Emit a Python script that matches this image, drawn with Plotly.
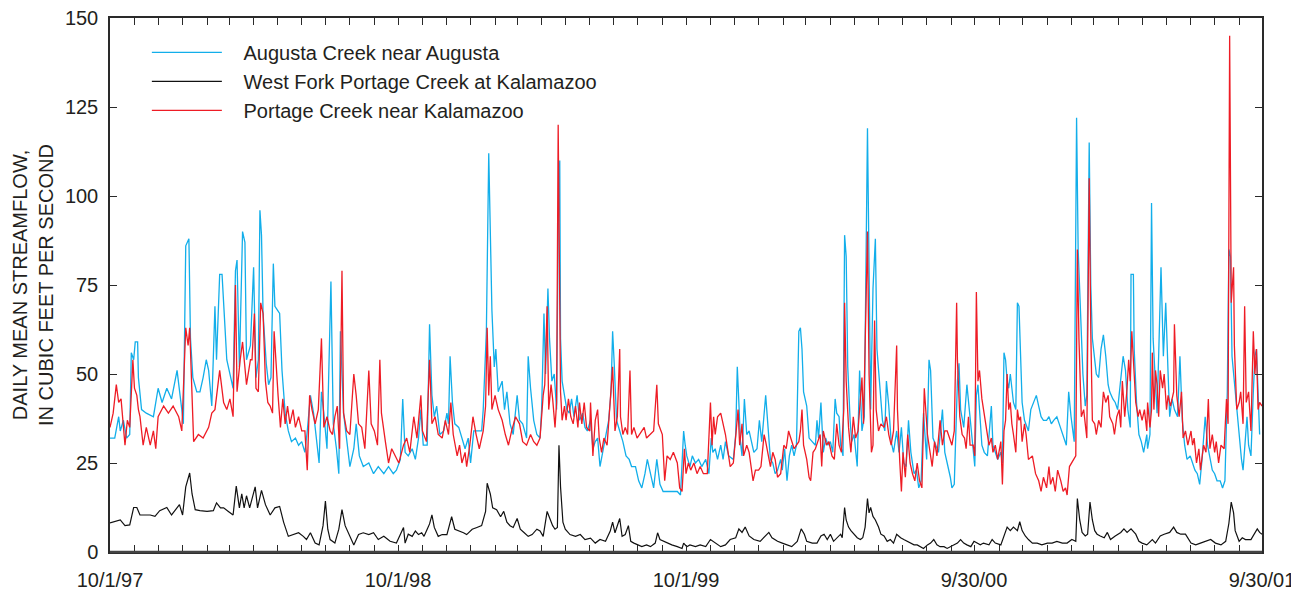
import pandas as pd
import plotly.graph_objects as go

START = "1997-10-01"

# Augusta Creek near Augusta (days since 10/1/97, cfs)
augusta_day = [0, 6, 11, 13, 17, 21, 25, 27, 30, 32, 35, 36, 40, 46, 55, 61, 66, 72, 78, 85, 91, 93, 96, 100, 102, 105, 110, 114, 118, 122, 125, 129, 133, 135, 139, 142, 145, 148, 154, 156, 159, 161, 164, 168, 171, 173, 178,
               182, 185, 188, 190, 192, 194, 198, 201, 204, 207, 209, 212, 215, 218, 222, 226, 230, 235, 239, 243, 247, 250, 254, 258, 262, 265, 268, 271, 275, 280, 283, 287, 290, 292, 296, 300, 304, 309, 312, 316, 321, 328, 334, 340, 347, 353, 359, 363, 368,
               371, 374, 378, 383, 387, 391, 394, 397, 402, 405, 408, 411, 414, 418, 423, 427, 429, 431, 434, 437, 442, 446, 450, 454, 457, 461, 467, 471, 473, 477, 480, 482, 484, 487, 489, 492, 497, 500, 503, 507, 511, 516, 519, 523, 528, 530, 533, 537, 541, 545,
               547, 550, 552, 555, 557, 560, 563, 566, 568, 570, 571, 573, 576, 579, 582, 585, 588, 592, 595, 599, 602, 605, 609, 612, 615, 618, 621, 625, 628, 632, 635, 637, 639, 642, 646, 650, 654, 658, 661, 666, 670, 674, 678, 681, 685, 689, 693, 697, 701, 706, 712, 719, 723,
               727, 729, 731, 735, 738, 742, 746, 750, 755, 759, 762, 764, 767, 770, 774, 777, 780, 784, 790, 793, 795, 797, 799, 801, 804, 807, 810, 812, 816, 820, 823, 826, 831, 834, 837, 840, 843, 846, 850, 852, 855, 858, 861, 864, 867, 870, 873, 875, 877, 879, 883, 886, 890, 894, 896, 898, 901,
               904, 907, 910, 913, 916, 919, 921, 924, 926, 929, 931, 933, 935, 938, 940, 943, 947, 950, 953, 956, 960, 962, 964, 967, 970, 972, 976, 979, 982, 984, 987, 990, 993, 997, 1000, 1003, 1006, 1009, 1012, 1015, 1019, 1022, 1025, 1028, 1031, 1035, 1038, 1040, 1043, 1046, 1050, 1055, 1058, 1061, 1065, 1067, 1070, 1074, 1076, 1078, 1082, 1086, 1090,
               1094, 1096, 1098, 1100, 1102, 1105, 1108, 1112, 1117, 1119, 1122, 1125, 1129, 1131, 1133, 1135, 1137, 1139, 1141, 1143, 1145, 1148, 1150, 1152, 1154, 1156, 1159, 1161, 1164, 1167, 1171, 1174, 1177, 1180, 1183, 1187, 1190, 1193, 1196, 1200, 1203, 1206, 1209, 1212, 1215, 1218, 1222, 1225, 1227, 1230, 1233, 1236, 1238, 1241, 1243, 1245, 1248, 1250, 1253, 1256, 1259, 1262, 1265, 1267,
               1271, 1274, 1277, 1281, 1284, 1287, 1290, 1293, 1294, 1297, 1298, 1301, 1304, 1307, 1310, 1314, 1315, 1318, 1320, 1322, 1324, 1327, 1329, 1332, 1335, 1338, 1341, 1343, 1346, 1349, 1353, 1356, 1359, 1362, 1365, 1369, 1372, 1375, 1378, 1381, 1384, 1388, 1391, 1394, 1397, 1400, 1403, 1407, 1410, 1413, 1416, 1418, 1420, 1422, 1424, 1428, 1431, 1434, 1436, 1439, 1441, 1443, 1446, 1449, 1451, 1453, 1456, 1457]
augusta_cfs = [32, 32, 38, 34, 37, 32, 33, 56, 54, 59, 59, 49, 40, 39, 38, 46, 42, 46, 43, 51, 40, 36, 86, 88, 60, 49, 45, 45, 49, 54, 51, 41, 69, 54, 78, 78, 66, 54, 48, 46, 79, 82, 52, 90, 87, 54, 58,
               80, 49, 54, 96, 89, 67, 53, 47, 49, 81, 69, 68, 67, 51, 39, 34, 31, 32, 30, 31, 28, 34, 44, 39, 31, 25, 45, 39, 29, 76, 36, 29, 22, 62, 39, 31, 24, 29, 36, 27, 24, 25, 22, 24, 22, 24, 22, 23, 26,
               43, 28, 27, 29, 26, 32, 40, 30, 30, 64, 44, 38, 41, 33, 34, 39, 36, 55, 42, 36, 35, 32, 29, 32, 25, 34, 34, 34, 40, 62, 112, 85, 68, 52, 57, 45, 48, 40, 45, 36, 33, 44, 37, 36, 32, 55, 46, 37, 33, 32,
               40, 67, 50, 74, 60, 48, 50, 40, 90, 110, 60, 48, 44, 40, 39, 43, 38, 44, 37, 39, 35, 34, 37, 29, 31, 32, 24, 29, 32, 37, 45, 62, 53, 37, 34, 31, 27, 26, 24, 24, 20, 18, 22, 26, 22, 18, 26, 19, 17, 17, 17, 17, 16,
               34, 30, 27, 24, 27, 25, 26, 24, 26, 22, 32, 28, 29, 26, 30, 26, 31, 27, 26, 33, 52, 42, 31, 27, 43, 33, 34, 32, 28, 29, 37, 31, 44, 35, 26, 25, 22, 23, 26, 23, 29, 20, 27, 30, 27, 30, 62, 63, 57, 45, 41, 32, 31, 30, 37, 32, 42,
               28, 32, 30, 31, 28, 43, 39, 38, 30, 27, 89, 83, 52, 37, 31, 33, 24, 51, 34, 38, 119, 80, 40, 74, 88, 57, 45, 37, 34, 48, 41, 31, 28, 34, 28, 35, 25, 24, 37, 28, 22, 23, 18, 20, 39, 26, 54, 51, 32, 30, 28, 40, 28, 25, 21, 18, 19, 48, 53, 40, 35, 47, 38,
               30, 24, 44, 47, 40, 30, 28, 27, 41, 30, 28, 26, 28, 25, 56, 54, 48, 46, 50, 45, 42, 40, 70, 69, 55, 42, 37, 36, 34, 40, 42, 44, 41, 38, 37, 37, 38, 36, 37, 38, 36, 34, 32, 30, 45, 38, 31, 122, 85, 67, 50, 41, 44, 115, 75, 60, 54, 50, 49, 57, 61, 55, 47, 45,
               43, 42, 40, 48, 55, 51, 40, 35, 78, 78, 57, 42, 33, 31, 28, 33, 29, 33, 98, 60, 52, 39, 55, 80, 55, 70, 50, 38, 43, 40, 38, 55, 37, 30, 26, 27, 25, 23, 22, 19, 26, 38, 30, 26, 23, 22, 20, 20, 18, 20, 45, 85, 83, 55, 50, 40, 32, 26, 23, 31, 38, 30, 27, 45, 55, 57, 40, 33]

# West Fork Portage Creek at Kalamazoo
westfork_day = [0, 13, 19, 25, 30, 34, 38, 51, 57, 63, 72, 78, 88, 92, 96, 101, 104, 108, 114, 123, 131, 135, 140, 144, 150, 156, 160, 164, 167, 170, 173, 177,
                184, 187, 192, 197, 203, 209, 215, 220, 226, 232, 239, 245, 249, 254, 260, 265, 270, 273, 276, 279, 285, 290, 294, 298, 304, 309, 315, 321, 328, 334, 340, 347, 355, 363,
                372, 374, 378, 383, 387, 391, 395, 398, 402, 405, 408, 411, 416, 421, 427, 430, 433, 437, 443, 448, 452, 459, 465, 471, 476, 478, 482, 485, 490, 495, 499, 503, 507, 511, 516, 520, 525, 530, 535, 541, 545,
                549, 554, 557, 561, 564, 567, 569, 571, 574, 577, 583, 590, 596, 602, 609, 615, 621, 628, 634, 637, 640, 643, 646, 649, 653, 657, 660, 664, 669, 674, 680, 685, 691, 694, 697, 702, 706, 712, 719,
                725, 727, 731, 735, 742, 748, 755, 761, 767, 774, 780, 786, 793, 797, 801, 805, 810, 816, 824, 831, 835, 839, 846, 852, 858, 864, 871, 876, 880, 883, 890, 896, 901,
                905, 909, 913, 917, 921, 926, 928, 931, 933, 936, 939, 943, 947, 951, 954, 957, 960, 962, 964, 967, 970, 974, 977, 981, 985, 989, 993, 997, 1002, 1006, 1010, 1014, 1019, 1023, 1027, 1031, 1036, 1040, 1044, 1048, 1052, 1057, 1061, 1065, 1069, 1074, 1078, 1082, 1086, 1091,
                1095, 1099, 1103, 1107, 1114, 1118, 1122, 1129, 1133, 1137, 1141, 1145, 1150, 1153, 1156, 1160, 1164, 1169, 1175, 1181, 1188, 1194, 1200, 1207, 1213, 1219, 1224, 1226, 1229, 1232, 1236, 1239, 1242, 1245, 1248, 1251, 1255, 1260, 1264, 1268,
                1274, 1281, 1285, 1289, 1294, 1300, 1304, 1308, 1314, 1321, 1325, 1331, 1336, 1343, 1348, 1352, 1357, 1363, 1370, 1376, 1382, 1388, 1395, 1401, 1408, 1414, 1418, 1421, 1424, 1426, 1431, 1435, 1439, 1446, 1451, 1454, 1457, 1460]
westfork_cfs = [8.2, 9, 7.4, 7.6, 12.5, 12.5, 10.4, 10.4, 10, 11.6, 12.5, 10.4, 13.3, 10.4, 18.3, 22.2, 16.3, 11.9, 11.6, 11.4, 11.6, 13.8, 12.4, 12.4, 11.4, 10.4, 18.5, 12.4, 16.3, 12.4, 15.8, 12.4,
                18.3, 12.4, 17.3, 13.3, 10.4, 12.4, 12.8, 8.4, 4.4, 4.9, 5.4, 4.4, 3.5, 5.4, 2.5, 2, 7.4, 14.3, 6.4, 3.5, 2.5, 6.4, 11.9, 7.4, 4.4, 2, 4.9, 5.4, 4.9, 5.4, 3.5, 4.4, 3, 2.5,
                6.9, 2.5, 5, 4.4, 5.9, 4.9, 5.4, 4.4, 6.4, 7.9, 10.4, 6.9, 4.4, 4.9, 4.9, 7.4, 9.9, 6.4, 5.9, 5.4, 4.9, 6.4, 6.9, 7.4, 11.4, 19.3, 16.3, 12.4, 11.9, 9.9, 11.4, 8.4, 7.4, 6.9, 9.4, 6.4, 5.4, 4.4, 4.9, 6.4, 5.9,
                4.4, 11.4, 9.4, 7.4, 6.4, 6.9, 30, 18.3, 8.4, 6.4, 4.9, 4.4, 4.9, 3.5, 3.9, 2.5, 3.5, 3, 5.9, 8.4, 5.4, 7.4, 9.4, 4.4, 4.9, 7.4, 3, 2.5, 2, 1.5, 2, 1.5, 2.5, 5.4, 3.5, 3, 2.5, 2, 1.5,
                1, 2.5, 1.5, 2, 1.5, 2, 1.5, 3.5, 2.5, 1.5, 2, 3.5, 4, 6.5, 5.5, 7, 4.5, 3.5, 3, 4.5, 5.5, 4, 3, 2.5, 2, 1.5, 3, 6.5, 5, 3, 2.5, 2.5, 4.5,
                5, 3.5, 5, 3, 4, 5, 4, 12.5, 9, 7, 6, 5, 4, 3.5, 4, 7, 15, 11, 12.5, 10, 9, 7, 5, 4.5, 3, 3.5, 2.5, 5, 4, 3.5, 3, 2.5, 2, 2, 1.5, 1, 2, 2.5, 3.5, 2, 1.5, 1.5, 1, 1.5, 2, 2.5, 3.5, 2.5, 2, 1.5,
                3, 2.5, 2, 2.5, 2, 3.5, 2.5, 2, 4.5, 7, 6, 7, 6, 8.5, 6, 4.5, 3.5, 2.5, 2.5, 2, 2.5, 2.5, 3, 2.5, 2.5, 3.5, 3, 15, 9, 5.5, 4.5, 5, 14, 9, 6, 5, 4.5, 4, 5.5, 3.5,
                4.5, 5.5, 6.5, 5.5, 6.5, 5, 3, 2.5, 2, 3.5, 2.5, 4.5, 5, 5.5, 7, 5.5, 5, 5, 2.5, 2, 2.5, 3, 3.5, 2.5, 2, 3, 8, 14, 11, 6, 3, 4, 3.5, 3.5, 5.5, 6.5, 5.5, 5]

# Portage Creek near Kalamazoo
portage_day = [0, 4, 8, 11, 14, 17, 19, 22, 25, 29, 31, 34, 36, 38, 42, 46, 51, 55, 58, 61, 68, 74, 80, 87, 91, 96, 99, 101, 104, 106, 112, 118, 125, 129, 133, 136, 139, 144, 148, 152, 156, 159, 161, 165, 168, 173, 178,
               180, 183, 185, 188, 191, 194, 197, 200, 203, 206, 208, 210, 213, 216, 219, 222, 225, 228, 232, 235, 239, 243, 247, 250, 253, 256, 260, 264, 268, 271, 275, 279, 282, 285, 288, 291, 294, 296, 300, 304, 309, 312, 315, 319, 323, 328, 331, 335, 339, 342, 344, 349, 353, 357, 361, 366,
               372, 376, 380, 385, 389, 391, 394, 396, 401, 405, 408, 412, 416, 421, 425, 429, 432, 435, 440, 443, 446, 450, 452, 456, 460, 464, 468, 473, 476, 478, 480, 482, 484, 488, 492, 497, 501, 505, 509, 514, 519, 523, 528, 533, 537, 541, 545,
               549, 551, 554, 556, 559, 561, 564, 566, 568, 570, 571, 573, 576, 578, 581, 584, 587, 590, 593, 595, 598, 601, 604, 608, 609, 612, 615, 618, 620, 623, 626, 630, 634, 637, 640, 643, 646, 647, 650, 653, 656, 659, 661, 664, 668, 671, 674, 677, 680, 685, 689, 693, 695, 700, 703, 706, 710, 714, 719, 722,
               725, 728, 730, 733, 736, 740, 744, 748, 752, 757, 761, 763, 765, 767, 770, 774, 777, 780, 782, 786, 790, 793, 796, 798, 801, 803, 807, 810, 812, 815, 818, 822, 825, 829, 831, 834, 837, 840, 843, 846, 850, 854, 857, 860, 863, 867, 870, 873, 875, 877, 879, 883, 886, 888, 891, 894, 897, 900,
               902, 904, 908, 911, 915, 918, 921, 924, 927, 930, 931, 933, 936, 939, 942, 945, 948, 953, 955, 960, 962, 965, 967, 969, 971, 974, 977, 981, 984, 987, 990, 993, 997, 998, 1001, 1003, 1005, 1008, 1011, 1014, 1017, 1020, 1023, 1026, 1029, 1032, 1036, 1039, 1042, 1045, 1048, 1052, 1055, 1058, 1061, 1064, 1067, 1070, 1073, 1074, 1077, 1080, 1083, 1085, 1088, 1090,
               1094, 1096, 1098, 1100, 1102, 1105, 1108, 1112, 1114, 1117, 1119, 1122, 1125, 1129, 1131, 1133, 1135, 1137, 1139, 1141, 1143, 1145, 1148, 1150, 1152, 1154, 1156, 1159, 1161, 1164, 1169, 1173, 1177, 1180, 1183, 1187, 1190, 1192, 1195, 1198, 1201, 1205, 1208, 1211, 1213, 1216, 1219, 1222, 1224, 1226, 1228, 1231, 1234, 1238, 1241, 1243, 1245, 1248, 1250, 1253, 1256, 1259, 1262, 1265, 1267,
               1271, 1273, 1276, 1279, 1281, 1283, 1286, 1289, 1291, 1293, 1295, 1298, 1300, 1303, 1305, 1308, 1311, 1314, 1315, 1318, 1320, 1321, 1323, 1325, 1327, 1329, 1331, 1334, 1336, 1339, 1341, 1344, 1348, 1349, 1352, 1355, 1358, 1360, 1363, 1366, 1370, 1372, 1374, 1377, 1380, 1382, 1386, 1389, 1392, 1394, 1397, 1400, 1402, 1405, 1408, 1412, 1415, 1417, 1419, 1421, 1424, 1425, 1428, 1431, 1433, 1436, 1438, 1440, 1443, 1446, 1449, 1451, 1453, 1455, 1457, 1460]
portage_cfs = [35, 39, 47, 42, 43, 35, 30, 37, 35, 54, 46, 44, 40, 38, 30, 35, 30, 34, 29, 38, 41, 39, 41, 38, 34, 63, 58, 63, 44, 31, 33, 32, 35, 39, 40, 46, 51, 42, 40, 43, 38, 75, 45, 54, 59, 47, 54,
               54, 67, 46, 45, 70, 67, 48, 42, 41, 39, 62, 54, 44, 35, 43, 36, 41, 36, 40, 35, 38, 34, 34, 23, 44, 40, 36, 40, 60, 35, 38, 34, 33, 38, 41, 29, 79, 39, 34, 33, 50, 44, 36, 35, 29, 51, 36, 34, 30, 54, 39, 31, 25, 29, 27, 25,
               30, 32, 28, 38, 32, 37, 44, 34, 31, 54, 36, 38, 33, 32, 37, 33, 42, 33, 27, 30, 25, 28, 24, 30, 38, 33, 29, 34, 41, 63, 44, 55, 40, 44, 40, 37, 33, 30, 34, 38, 36, 31, 30, 33, 31, 30, 32,
               44, 47, 69, 40, 47, 43, 35, 42, 120, 75, 45, 37, 41, 37, 43, 38, 36, 41, 35, 42, 36, 42, 35, 34, 42, 27, 37, 40, 32, 28, 32, 30, 43, 52, 34, 38, 57, 38, 33, 35, 33, 51, 33, 35, 32, 33, 34, 35, 32, 33, 34, 47, 36, 33, 20, 27, 26, 28, 25, 18,
               17, 29, 22, 25, 23, 25, 22, 24, 22, 22, 42, 30, 38, 33, 38, 39, 36, 33, 30, 24, 25, 32, 40, 30, 36, 27, 30, 28, 25, 20, 23, 23, 24, 33, 31, 27, 24, 28, 26, 21, 22, 30, 29, 34, 32, 29, 30, 31, 34, 40, 30, 26, 21, 20, 28, 29, 31, 33,
               24, 34, 30, 31, 27, 26, 36, 30, 28, 40, 70, 48, 35, 28, 38, 32, 34, 49, 36, 90, 50, 28, 30, 65, 40, 34, 36, 35, 38, 33, 30, 34, 58, 40, 25, 17, 28, 21, 33, 25, 22, 20, 25, 20, 18, 46, 33, 28, 24, 31, 27, 37, 30, 34, 34, 32, 30, 34, 70, 54, 38, 33, 32, 29, 38, 30,
               30, 27, 73, 48, 51, 43, 39, 33, 30, 32, 28, 30, 26, 31, 19, 34, 37, 50, 40, 42, 36, 33, 28, 40, 37, 38, 31, 36, 33, 26, 27, 22, 20, 17, 21, 18, 24, 19, 21, 17, 23, 20, 17, 18, 16, 24, 25, 26, 27, 85, 60, 38, 40, 32, 105, 62, 37, 36, 33, 37, 35, 45, 42, 44, 38,
               36, 33, 38, 40, 35, 48, 38, 46, 54, 48, 62, 50, 42, 38, 40, 37, 40, 34, 42, 35, 40, 56, 40, 51, 47, 38, 51, 46, 50, 40, 44, 41, 45, 64, 44, 38, 45, 32, 34, 30, 34, 30, 32, 25, 29, 23, 30, 28, 43, 29, 33, 28, 31, 25, 30, 29, 43, 36, 145, 70, 80, 58, 40, 42, 45, 36, 69, 42, 45, 34, 62, 50, 57, 40, 42, 41]

tick_dates = ["1997-10-01", "1998-10-01", "1999-10-01", "2000-09-30", "2001-09-30"]
tick_text = ["10/1/97", "10/1/98", "10/1/99", "9/30/00", "9/30/01"]
y_ticks = [0, 25, 50, 75, 100, 125, 150]
series_names = ["Augusta Creek near Augusta",
                "West Fork Portage Creek at Kalamazoo",
                "Portage Creek near Kalamazoo"]


def to_dates(days):
    return pd.Timestamp(START) + pd.to_timedelta(days, unit="D")


INK = "#231f20"
FRAME = "#2a2a2a"
FONT = "Liberation Sans, Arial, Helvetica, sans-serif"
PAD = "\u00a0\u00a0\u00a0"

fig = go.Figure()
fig.add_trace(go.Scatter(x=to_dates(augusta_day), y=augusta_cfs, mode="lines",
                         name=PAD + series_names[0], legendgroup="a",
                         line=dict(color="#12aeea", width=1.3)))
fig.add_trace(go.Scatter(x=to_dates(westfork_day), y=westfork_cfs, mode="lines",
                         name=PAD + series_names[1], legendgroup="b",
                         line=dict(color="#111111", width=1.2)))
fig.add_trace(go.Scatter(x=to_dates(portage_day), y=portage_cfs, mode="lines",
                         name=PAD + series_names[2], legendgroup="c",
                         line=dict(color="#ee1c25", width=1.3)))

fig.update_layout(
    width=1291, height=584,
    margin=dict(l=102, r=37, t=10, b=40, autoexpand=False),
    paper_bgcolor="white", plot_bgcolor="white",
    font=dict(family=FONT, size=20, color=INK),
    showlegend=True,
    legend=dict(x=0.032, y=0.972, xanchor="left", yanchor="top",
                bgcolor="rgba(0,0,0,0)", font=dict(size=20, color=INK),
                tracegroupgap=0, itemwidth=70, traceorder="grouped"),
    xaxis=dict(
        type="date", range=["1997-10-01", "2001-09-30"],
        tickmode="array", tickvals=tick_dates, ticktext=tick_text,
        ticks="inside", ticklen=7, tickcolor=FRAME, tickwidth=1.2,
        minor=dict(ticks="inside", ticklen=7, dtick="M1", tick0="1997-10-01",
                   tickcolor=FRAME, tickwidth=1.2, showgrid=False),
        showline=True, linecolor=FRAME, linewidth=1.5, mirror="ticks",
        showgrid=False, zeroline=False, automargin=False, ticklabelstandoff=9,
        ticklabeloverflow="allow",
        tickfont=dict(size=20, color=INK),
    ),
    yaxis=dict(
        range=[0, 150], tickmode="array", tickvals=y_ticks,
        ticks="inside", ticklen=7, tickcolor=FRAME, tickwidth=1.2,
        showline=True, linecolor=FRAME, linewidth=1.5, mirror="ticks",
        showgrid=False, zeroline=False, automargin=False, ticklabelstandoff=6,
        ticklabeloverflow="allow",
        tickfont=dict(size=20, color=INK),
        title=dict(text="DAILY MEAN STREAMFLOW,<br>IN CUBIC FEET PER SECOND",
                   font=dict(size=20, color=INK), standoff=6),
    ),
)
fig.add_shape(type="line", xref="paper", yref="paper", x0=0, x1=1, y0=0, y1=0,
              line=dict(color="#444444", width=2.5))

fig.write_html("out.html")
